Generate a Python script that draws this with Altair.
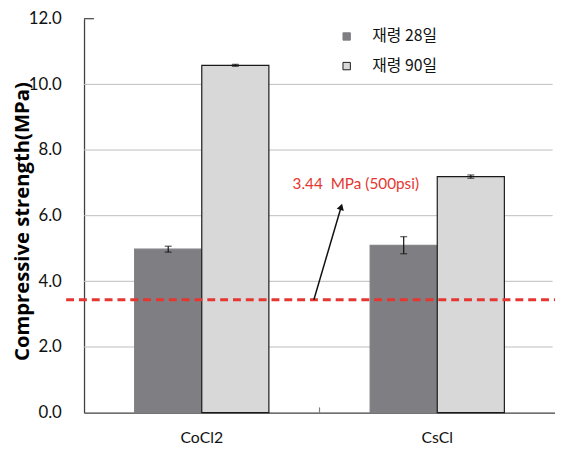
import altair as alt
import pandas as pd

# ---- data ----
materials = ["CoCl2", "CoCl2", "CsCl", "CsCl"]
ages = ["재령 28일", "재령 90일", "재령 28일", "재령 90일"]
strength = [4.98, 10.58, 5.10, 7.19]
errors = [0.09, 0.03, 0.26, 0.05]
y_ticks = [0, 2, 4, 6, 8, 10, 12]
grid_levels = [2, 4, 6, 8, 10]
threshold = 3.44
threshold_label = "3.44\u00a0\u00a0MPa (500psi)"

age_order = ["재령 28일", "재령 90일"]
mat_order = ["CoCl2", "CsCl"]

df = pd.DataFrame({"material": materials, "age": ages, "strength": strength, "err": errors})
df["lo"] = df["strength"] - df["err"]
df["hi"] = df["strength"] + df["err"]

W, H = 477, 399
LATIN = "Lato"
KR = "Noto Sans CJK KR"
DARK = "#7f7f83"
LIGHT = "#d9d8d8"
RED = "#e53631"
YTITLE = "Compressive strength(MPa)"

xscale = alt.Scale(domain=mat_order, paddingInner=0.43, paddingOuter=0.215)
yscale = alt.Scale(domain=[0, 12], nice=False, zero=True)
yaxis = alt.Axis(values=y_ticks, format=".1f", grid=False, ticks=False, tickSize=0,
                 labelFont=LATIN, labelFontSize=17, labelColor="#111111",
                 labelPadding=23, domainColor="#404040", domainWidth=1.3,
                 titleFont="Open Sans", titleFontSize=20.5, titleFontWeight="bold",
                 titleColor="#000000", titleX=-52, titleY=205, titleAngle=270,
                 titleAlign="center", titleBaseline="bottom")


def Y(field):
    return alt.Y(field, scale=yscale, axis=yaxis, title=YTITLE)


xoff = alt.XOffset("age:N", sort=age_order, scale=alt.Scale(paddingInner=0, paddingOuter=0))

legend = alt.Legend(
    title=None, orient="none", legendX=258, legendY=10, symbolType="square",
    symbolSize=56, symbolStrokeWidth=1, labelFont=KR, labelFontSize=16,
    labelColor="#111111", labelOffset=18, rowPadding=14, padding=0,
)

base = alt.Chart(df)

bars = base.mark_bar(strokeWidth=1.2).encode(
    x=alt.X("material:N", sort=mat_order, scale=xscale, title=None,
            axis=alt.Axis(labelAngle=0, labelFont=LATIN, labelFontSize=16, labelColor="#111111",
                          labelPadding=17, ticks=False, tickSize=0, domainColor="#404040",
                          domainWidth=1.3, grid=False)),
    xOffset=xoff,
    y=Y("strength:Q"),
    color=alt.Color("age:N", sort=age_order, scale=alt.Scale(domain=age_order, range=[DARK, LIGHT]), legend=legend),
    stroke=alt.Stroke("age:N", sort=age_order, scale=alt.Scale(domain=age_order, range=[DARK, "#1a1a1a"]), legend=legend),
)

xe = alt.X("material:N", sort=mat_order, scale=xscale, axis=None)
err_rule = base.mark_rule(color="#111111", strokeWidth=1.2).encode(
    x=xe, xOffset=xoff, y=Y("lo:Q"), y2="hi:Q")
cap_lo = base.mark_tick(color="#111111", thickness=1.2, size=7, orient="horizontal").encode(
    x=xe, xOffset=xoff, y=Y("lo:Q"))
cap_hi = base.mark_tick(color="#111111", thickness=1.2, size=7, orient="horizontal").encode(
    x=xe, xOffset=xoff, y=Y("hi:Q"))

# annotation layers in plot-fraction x coordinates
fx = alt.Scale(domain=[0, 1], nice=False, zero=False)

grid = alt.Chart(pd.DataFrame({"g": grid_levels})).mark_rule(color="#bdbdbd", strokeWidth=1).encode(
    x=alt.X("a:Q", scale=fx, axis=None), x2="b:Q", y=Y("g:Q")
).transform_calculate(a="0", b="0.995")

top_tick = alt.Chart(pd.DataFrame({"g": [12]})).mark_rule(color="#404040", strokeWidth=1.2).encode(
    x=alt.X("a:Q", scale=fx, axis=None), x2="b:Q", y=Y("g:Q")
).transform_calculate(a="0", b="0.021")

mid_tick = alt.Chart(pd.DataFrame({"a": [0.5]})).mark_rule(color="#7f7f7f", strokeWidth=1.2).encode(
    x=alt.X("a:Q", scale=fx, axis=None), y=Y("y0:Q"), y2="y1:Q"
).transform_calculate(y0="0", y1="0.16")

dash = alt.Chart(pd.DataFrame({"t": [threshold]})).mark_rule(color=RED, strokeWidth=3, strokeDash=[8, 5]).encode(
    x=alt.X("a:Q", scale=fx, axis=None), x2="b:Q", y=Y("t:Q")
).transform_calculate(a="-0.038", b="1.0")

arrow_line = alt.Chart(pd.DataFrame({"px": [0.488, 0.545], "py": [threshold, 6.22]})).mark_line(
    color="#111111", strokeWidth=1.5).encode(
    x=alt.X("px:Q", scale=fx, axis=None), y=Y("py:Q"))

arrow_head = alt.Chart(pd.DataFrame({"px": [0.546], "py": [6.27]})).mark_point(
    shape="triangle-up", filled=True, color="#111111", size=55, angle=16, opacity=1).encode(
    x=alt.X("px:Q", scale=fx, axis=None), y=Y("py:Q"))

label = alt.Chart(pd.DataFrame({"px": [0.577], "py": [6.96], "txt": [threshold_label]})).mark_text(
    color=RED, font=LATIN, fontSize=15.5, align="center", baseline="middle").encode(
    x=alt.X("px:Q", scale=fx, axis=None), y=Y("py:Q"), text="txt:N")

chart = alt.layer(
    grid, bars, err_rule, cap_lo, cap_hi, top_tick, mid_tick, dash, arrow_line, arrow_head, label
).resolve_scale(x="independent").properties(
    width=W, height=H,
    autosize=alt.AutoSizeParams(type="none"),
    padding={"left": 77, "top": 8, "right": 0, "bottom": 37},
).configure_view(stroke=None).configure_axis(grid=False)

chart.save("out.html", embed_options={"renderer": "svg", "actions": False})
